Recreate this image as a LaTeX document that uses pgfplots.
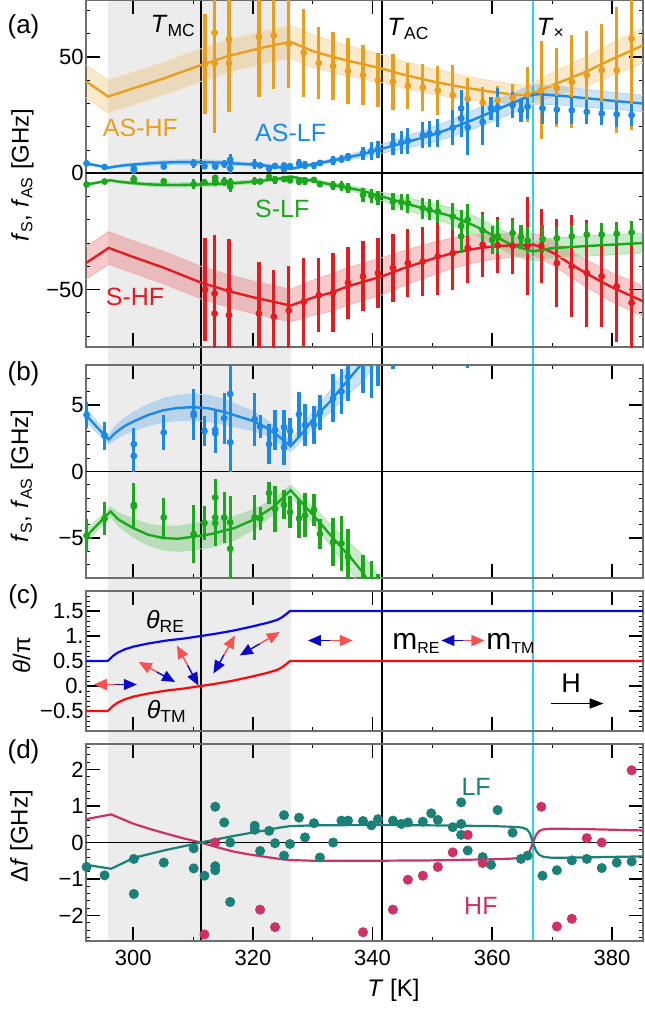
\documentclass[border=0pt]{standalone}
\usepackage{fontspec}
\setmainfont{Liberation Sans}
\usepackage{pgfplots}
\pgfplotsset{compat=1.18}
\usepackage{pgfplotstable}
\usetikzlibrary{backgrounds,arrows.meta}

\definecolor{cOr}{RGB}{232,158,30}
\definecolor{cBl}{RGB}{30,136,229}
\definecolor{cGr}{RGB}{28,168,28}
\definecolor{cRd}{RGB}{226,28,32}
\definecolor{cTe}{RGB}{26,128,120}
\definecolor{cMg}{RGB}{205,50,100}
\definecolor{cCy}{RGB}{40,215,225}
\definecolor{cSh}{RGB}{236,236,236}
\definecolor{cFr}{RGB}{110,110,110}
\definecolor{thB}{RGB}{10,10,240}
\definecolor{thR}{RGB}{250,10,10}
\definecolor{arR}{RGB}{250,80,80}
\definecolor{arB}{RGB}{10,10,200}

\newcommand{\fs}[1]{\fontsize{#1}{#1}\selectfont}

% model curves: T, centre, half width of band
\pgfplotstableread{
T c w
292.1 39.5 7
295.8 33 7
300 36.5 7
305 40.7 7
311.3 46.5 7
316 50.5 7
320 53 7
323 54.8 7
326.3 56.5 7
330 52.5 7
333 50.3 6.8
336 48.3 6.5
341.6 45 6
345 42.5 5.8
350 39.5 5.5
355 37 5
360 35 4.7
363 34 4.5
365.8 33.5 4.3
368.2 35.8 4.8
370.2 38 5.5
375.6 43.6 6.2
380 49 7
385.2 55 7.5
}\orline
\pgfplotstableread{
T c w
292.1 -38.6 7
295.9 -32.1 7
300 -36 7
305 -40.5 7
311.3 -47 7
316 -50.7 7
320 -53.3 7
323 -55 7
326.3 -56.9 7
330 -53.5 7.5
333 -51.4 8
336 -48.5 8
341.6 -44.3 8
345 -41 7.5
350 -36.8 7
353.4 -34.3 6.5
357 -32.5 6
360 -31.5 5.5
363 -31 5.2
366.8 -30.7 5
368 -31.6 5
370.2 -34.3 5.2
372.5 -38 5.5
375.6 -42.9 5.8
380 -49 6.2
385.2 -55 6.5
}\rdline
\pgfplotstableread{
T c w
292.1 4.25 0.5
294 3.3 0.4
295.9 2.4 0.35
297 2.9 0.5
298.5 3.4 0.6
300 3.75 0.7
302.5 4.25 0.8
305 4.6 0.9
307.5 4.78 0.95
310 4.83 1.0
312.5 4.75 1.0
315 4.5 0.95
317.5 4.15 0.85
320 3.8 0.75
322 3.35 0.6
324 2.75 0.5
326.3 1.9 0.4
328 2.75 0.5
330 3.9 0.6
331.3 4.5 0.7
333 5.3 0.8
335 6.4 1.0
338.4 8.2 1.4
341.6 10.6 1.9
345 12.9 2.5
350 16.5 3.2
353.4 19.6 3.6
357 23.2 4
360 26.5 4.2
363 29.8 4.3
365.6 32.6 4.3
366.8 33.8 4.3
368 34 4.2
372 33.2 4
376 32.2 3.8
380 31.2 3.6
385.2 30 3.5
}\blline
\pgfplotstableread{
T c w
292.1 -4.9 0.5
294 -4.0 0.4
296.2 -3.0 0.35
297.5 -3.6 0.5
300 -4.25 0.7
302.5 -4.75 0.8
305 -5.0 0.9
307.5 -5.05 0.95
310 -4.9 1.0
313 -4.7 1.0
316.9 -4.25 0.9
320.2 -3.6 0.75
323.6 -2.6 0.55
326.3 -1.4 0.4
328 -2.25 0.5
331.3 -3.9 0.7
333 -4.8 0.8
336.2 -6.4 1.0
338.4 -7.6 1.3
341.6 -10 1.8
345 -12.6 2.5
350 -16.2 3.2
353.4 -18.6 3.6
357 -22.5 4
360 -26.5 4.3
363.4 -31 4.3
365.9 -32.9 4.3
366.8 -33.6 4.3
370 -32.2 4.3
375 -31.4 4.3
380 -30.7 4.3
385.2 -30 4.3
}\grline

% measured frequencies: T, value, error
\pgfplotstableread{
T y e
312.0 47.1 21.5
313.6 47.4 30
313.6 60.4 30
316.0 47.4 21
316.0 57.6 31
321.0 58.6 26
323.5 59.3 23
326.0 55.7 19
328.5 51.8 19
331.0 47.4 15.5
333.4 46.1 14.6
335.9 44.0 14
338.4 42.2 13
340.9 40.0 11.5
343.4 39.3 12
345.9 37.6 10
348.4 36.9 10
350.9 35.7 10.5
353.4 33.6 13
355.9 31.9 9
358.4 30.3 7
360.9 31.5 6
363.4 32.5 6
365.9 33.9 12
368.2 35.7 21
370.8 36.7 17
373.3 39.3 20
375.8 42.2 19
378.3 44.3 20
380.8 44.3 27
383.3 57.8 39
}\orpts
\pgfplotstableread{
T y e
312.0 -50.0 22
313.6 -51.7 25
313.6 -60.3 25
316.0 -50.3 22
316.0 -61.0 22
321.0 -60.3 22
323.5 -61.7 20
326.0 -59.0 19
328.5 -55.3 19
331.0 -52.4 16
333.4 -51.4 17
335.9 -47.1 15.5
338.4 -44.3 15
340.9 -42.9 15
343.4 -40.7 14.5
345.9 -38.6 14.5
348.4 -37.9 15
350.9 -35.7 16.5
353.4 -34.3 16
355.9 -32.1 15
358.4 -30.7 14
360.9 -31.0 12
363.4 -31.2 12
365.9 -31.3 21
368.2 -31.3 16
370.8 -38.6 19
373.3 -40.0 22
375.8 -42.9 23
378.3 -44.3 22
380.8 -48.6 24
383.3 -55.7 25
}\rdpts
\pgfplotstableread{
T y e
292.2 4.25 1.0
295.2 2.7 1.05
300.1 2.05 1.2
300.1 1.17 1.2
305.1 2.93 1.3
310.1 4.38 1.8
310.1 4.2 1.8
311.9 3.05 1.15
313.7 3.13 1.5
313.7 2.88 1.5
315.2 4.0 1.9
316.2 5.83 2.6
316.2 2.2 2.2
320.3 3.93 2.0
321.2 3.38 0.9
322.7 2.05 1.5
323.7 3.13 1.5
325.2 3.33 1.3
325.2 1.8 1.3
326.2 3.05 1.0
327.7 4.3 1.7
328.7 3.5 1.6
330.2 3.5 1.45
331.2 4.43 1.3
333.4 5.5 1.8
334.8 6.0 1.7
335.9 7.1 1.8
338.4 8.7 2.8
339.8 9.5 4
340.9 10.2 3.8
343.4 12.5 4.8
344.8 13.2 5
345.9 14.0 5.5
348.4 16.4 5.5
349.5 17.0 5.5
350.9 17.4 6
353.4 19.6 7.5
354.8 27.9 8
354.8 23.6 8
355.9 19.8 12
358.4 22.1 10
359.8 27.9 5
360.9 28.3 8.5
363.4 29.3 5.7
364.8 27.1 5
365.9 28.6 5.4
368.4 27.9 6.8
370.8 27.4 6
373.3 27.1 5.7
375.8 26.4 5
378.3 25.7 5
380.8 25.4 5.7
383.3 25.0 4.6
}\blpts
\pgfplotstableread{
T y e
292.2 -4.82 1.25
295.2 -3.55 1.25
300.1 -2.5 1.6
300.1 -2.63 1.6
305.1 -3.45 1.45
310.1 -4.7 2.2
311.9 -3.87 1.25
313.7 -1.95 1.35
313.7 -3.45 2.15
313.7 -3.87 1.75
315.2 -3.45 1.9
316.2 -3.82 2.0
316.2 -5.8 2.3
320.3 -3.45 1.7
321.2 -3.53 0.9
322.7 -1.62 0.85
323.7 -2.82 1.75
325.2 -2.5 1.1
326.2 -3.05 1.2
327.7 -3.53 1.5
328.7 -3.3 1.65
330.2 -2.87 1.2
331.2 -4.7 1.15
333.4 -5.3 1.8
334.8 -5.4 2.05
335.9 -6.4 2.1
338.4 -9.3 3
339.8 -9.7 3
340.9 -10.7 3
343.4 -12.1 3.5
344.8 -12.4 3.5
345.9 -12.9 4
348.4 -15.0 4.5
349.5 -15.7 4.5
350.9 -16.4 5
353.4 -18.6 6
354.8 -22.6 7
354.8 -27.1 7
355.9 -20.0 7
358.4 -24.6 7
360.0 -28.6 6
360.9 -27.1 7
363.4 -25.7 6
364.8 -27.4 5
365.9 -28.9 6
368.4 -28.3 6
370.8 -27.9 5
373.3 -27.1 5
375.8 -26.4 5
378.3 -26.4 5
380.8 -26.0 5
383.3 -25.4 5
}\grpts

% magnetisation angles
\pgfplotstableread{
T re tm
292.1 0.5 -0.5
295.7 0.5 -0.5
296.1 0.54 -0.46
296.6 0.6 -0.4
297.3 0.66 -0.34
298.5 0.73 -0.27
300.1 0.79 -0.21
302.5 0.85 -0.15
305.6 0.91 -0.09
308.5 0.95 -0.05
311.3 1.0 0.0
314.0 1.05 0.05
316.8 1.11 0.11
319.5 1.18 0.18
322.3 1.26 0.26
324.0 1.32 0.32
324.8 1.37 0.37
325.6 1.44 0.44
326.2 1.5 0.5
385.2 1.5 0.5
}\thtab

% frequency differences
\pgfplotstableread{
T lf hf
292.1 -0.61 0.64
296.3 -0.72 0.77
300.1 -0.42 0.51
302.8 -0.31 0.37
305.6 -0.2 0.24
308.5 -0.1 0.11
311.3 0.0 0.0
314 0.09 -0.13
316.8 0.18 -0.25
319.5 0.26 -0.33
322.3 0.34 -0.40
324.5 0.41 -0.45
326.2 0.45 -0.48
330 0.47 -0.5
340 0.48 -0.5
350 0.47 -0.49
360 0.45 -0.46
363.4 0.43 -0.44
365 0.41 -0.41
365.8 0.36 -0.35
366.3 0.25 -0.22
366.8 0.0 0.0
367.3 -0.22 0.2
367.8 -0.33 0.31
368.5 -0.39 0.36
370 -0.42 0.38
375 -0.41 0.37
385.2 -0.38 0.33
}\dftab
\pgfplotstableread{
T y
292.2 -0.67
295.2 -0.9
300.1 -0.45
300.1 -1.41
305.1 -0.55
310.1 -0.16
310.1 -0.71
311.9 -0.91
313.7 0.98
313.7 -0.65
313.7 -0.76
315.2 0.55
316.2 0.0
316.2 -1.63
320.3 0.46
320.3 0.35
321.2 -0.23
322.7 0.32
323.7 -0.02
325.2 0.75
325.2 -0.36
326.2 -0.04
327.7 0.68
328.7 0.14
330.2 0.53
331.2 -0.41
333.4 0.0
334.8 0.60
335.9 0.6
338.4 0.59
339.8 0.47
340.9 0.64
343.4 0.6
344.8 0.51
345.9 0.55
348.4 0.57
349.8 0.8
350.9 0.62
353.4 0.42
354.8 1.1
354.8 0.51
354.8 0.21
355.9 -0.22
358.4 -0.40
359.8 -0.61
360.9 0.89
363.4 0.27
364.8 -0.45
365.9 -0.36
368.4 -0.91
370.8 -0.76
373.3 -0.49
375.8 -0.45
378.3 -0.7
380.8 -0.55
383.3 -0.52
}\lfpts
\pgfplotstableread{
T y
311.9 -2.52
313.7 0.0
321.2 -1.84
323.7 -2.32
338.4 -2.46
340.9 -2.78
343.4 -1.84
345.9 -1.02
348.4 -0.91
350.9 -0.67
353.4 -0.27
355.9 0.21
358.4 -0.56
365.8 2.72
368.2 0.98
370.8 -2.3
373.3 -2.09
375.8 0.12
378.3 0.0
383.3 1.98
}\hfpts

\pgfplotsset{
  geom/.style={scale only axis, width=278.5pt, anchor=north west,
    xmin=292.1, xmax=385.2},
  pa/.style={at={(43pt,0pt)}, height=173.5pt, ymin=-74.7, ymax=74.5},
  pb/.style={at={(43pt,-182.5pt)}, height=106.5pt, ymin=-8, ymax=8},
  panel/.style={geom,
    xtick={300,320,340,360,380}, minor xtick={310,330,350,370},
    xticklabels={},
    major tick length=7pt, minor tick length=2.2pt,
    tick style={black},
    major tick style={line width=0.9pt},
    minor tick style={line width=0.5pt},
    axis line style={cFr, line width=0.6pt},
    tick label style={font=\fs{11}},
    yticklabel style={inner sep=1pt},
  },
}

% shaded uncertainty band: an own hidden axis, lower edge stacked with the width
\newcommand{\bandfill}[3]{%
  \begin{axis}[geom, #3, hide axis, stack plots=y]
  \addplot[draw=none] table[x=T, y expr=\thisrow{c}-\thisrow{w}] {#1};
  \addplot[draw=none, fill=#2, fill opacity=0.23] table[x=T, y expr=2*\thisrow{w}] {#1} \closedcycle;
  \end{axis}}
% band edges + centre line
\newcommand{\band}[2]{%
  \addplot[draw=#2!35, line width=0.4pt] table[x=T, y expr=\thisrow{c}+\thisrow{w}] {#1};
  \addplot[draw=#2!35, line width=0.4pt] table[x=T, y expr=\thisrow{c}-\thisrow{w}] {#1};
  \addplot[#2, line width=1.2pt] table[x=T, y=c] {#1};
}
\newcommand{\pts}[2]{%
  \addplot[#2, only marks, mark=*, mark size=1.5pt,
    error bars/.cd, y dir=both, y explicit, error mark=none,
    error bar style={line width=1.6pt}] table[x=T, y=y, y error=e] {#1};
}

\begin{document}
\begin{tikzpicture}
\useasboundingbox (0pt,0pt) rectangle (322pt,-506.5pt);

% ---------------- (a)
\bandfill{\orline}{cOr}{pa}
\bandfill{\rdline}{cRd}{pa}
\bandfill{\blline}{cBl}{pa}
\bandfill{\grline}{cGr}{pa}
\begin{axis}[panel, pa,
  ytick={-50,0,50}, yticklabels={−50,0,50},
  minor ytick={-70,-60,-40,-30,-20,-10,10,20,30,40,60,70}]
\draw[black, line width=0.9pt] (axis cs:292.1,0) -- (axis cs:385.2,0);
\band{\orline}{cOr}
\band{\rdline}{cRd}
\band{\blline}{cBl}
\band{\grline}{cGr}
\pts{\orpts}{cOr}
\pts{\rdpts}{cRd}
\pts{\blpts}{cBl}
\pts{\grpts}{cGr}
\node[cOr, font=\fs{12.5}] at (axis cs:301.2,19.4) {AS-HF};
\node[cBl, font=\fs{12.5}] at (axis cs:326.3,17.3) {AS-LF};
\node[cGr, font=\fs{12.5}] at (axis cs:324.9,-15.3) {S-LF};
\node[cRd, font=\fs{12.5}] at (axis cs:300.3,-53) {S-HF};
\node[anchor=base, font=\fs{12.5}] at (axis cs:306.7,60.7) {\textit{T}\textsubscript{MC}};
\node[anchor=base, font=\fs{12.5}] at (axis cs:346,59.3) {\textit{T}\textsubscript{AC}};
\node[anchor=base, font=\fs{12.5}] at (axis cs:369.8,59.3) {\textit{T}\textsubscript{×}};
\coordinate (aG1) at (axis cs:295.8,74.5);
\coordinate (aMC) at (axis cs:311.3,74.5);
\coordinate (aAC) at (axis cs:341.6,74.5);
\coordinate (aX) at (axis cs:366.8,74.5);
\end{axis}

% ---------------- (b)
\bandfill{\blline}{cBl}{pb}
\bandfill{\grline}{cGr}{pb}
\begin{axis}[panel, pb,
  ytick={-5,0,5}, yticklabels={−5,0,5},
  minor ytick={-7,-6,-4,-3,-2,-1,1,2,3,4,6,7}]
\draw[black, line width=0.9pt] (axis cs:292.1,0) -- (axis cs:385.2,0);
\band{\blline}{cBl}
\band{\grline}{cGr}
\pts{\blpts}{cBl}
\pts{\grpts}{cGr}
\end{axis}

% ---------------- (c)
\begin{axis}[panel, at={(43pt,-295.5pt)}, height=70pt,
  ymin=-0.9, ymax=1.9,
  ytick={-0.5,0,0.5,1,1.5}, yticklabels={−0.5,0.,0.5,1.,1.5},
  minor ytick={-0.8,-0.7,-0.6,-0.4,-0.3,-0.2,-0.1,0.1,0.2,0.3,0.4,0.6,0.7,0.8,0.9,1.1,1.2,1.3,1.4,1.6,1.7,1.8}]
\addplot[thB, line width=1.1pt] table[x=T, y=re] {\thtab};
\addplot[thR, line width=1.1pt] table[x=T, y=tm] {\thtab};
\draw[arR, line width=0.7pt, -{Triangle[length=6.5pt,width=5.5pt]}] (axis cs:297,0.03) -- (axis cs:293.4,0.03);
\draw[arB, line width=0.7pt, -{Triangle[length=6.5pt,width=5.5pt]}] (axis cs:297,0.03) -- (axis cs:300.6,0.03);
\draw[arR, line width=0.7pt, -{Triangle[length=6.5pt,width=5.5pt]}] (axis cs:303.95,0.28) -- (axis cs:300.9,0.48);
\draw[arB, line width=0.7pt, -{Triangle[length=6.5pt,width=5.5pt]}] (axis cs:303.95,0.28) -- (axis cs:307,0.08);
\draw[arR, line width=0.7pt, -{Triangle[length=6.5pt,width=5.5pt]}] (axis cs:309.1,0.41) -- (axis cs:307.3,0.81);
\draw[arB, line width=0.7pt, -{Triangle[length=6.5pt,width=5.5pt]}] (axis cs:309.1,0.41) -- (axis cs:310.9,0.01);
\draw[arB, line width=0.7pt, -{Triangle[length=6.5pt,width=5.5pt]}] (axis cs:315.2,0.63) -- (axis cs:313.4,0.25);
\draw[arR, line width=0.7pt, -{Triangle[length=6.5pt,width=5.5pt]}] (axis cs:315.2,0.63) -- (axis cs:317,1.01);
\draw[arB, line width=0.7pt, -{Triangle[length=6.5pt,width=5.5pt]}] (axis cs:321.15,0.845) -- (axis cs:317.8,0.61);
\draw[arR, line width=0.7pt, -{Triangle[length=6.5pt,width=5.5pt]}] (axis cs:321.15,0.845) -- (axis cs:324.5,1.08);
\draw[arB, line width=0.7pt, -{Triangle[length=6.5pt,width=5.5pt]}] (axis cs:332.95,0.91) -- (axis cs:329.2,0.91);
\draw[arR, line width=0.7pt, -{Triangle[length=6.5pt,width=5.5pt]}] (axis cs:332.95,0.91) -- (axis cs:336.7,0.91);
\draw[arB, line width=0.7pt, -{Triangle[length=6.5pt,width=5.5pt]}] (axis cs:355.1,0.91) -- (axis cs:351.5,0.91);
\draw[arR, line width=0.7pt, -{Triangle[length=6.5pt,width=5.5pt]}] (axis cs:355.1,0.91) -- (axis cs:358.7,0.91);
\draw[line width=0.9pt, -{Triangle[length=7pt,width=5pt]}] (axis cs:369.9,-0.35) -- (axis cs:378.6,-0.35);
\node[anchor=base east, font=\fs{15}, inner sep=0.5pt] at (axis cs:351.6,0.73) {m\textsubscript{\fs{8}RE}};
\node[anchor=base west, font=\fs{15}, inner sep=0.5pt] at (axis cs:358.8,0.73) {m\textsubscript{\fs{8}TM}};
\node[anchor=base, font=\fs{13.5}] at (axis cs:373.2,-0.12) {H};
\node[anchor=base, font=\fs{12.5}] at (axis cs:305.4,1.15) {\textit{θ}\textsubscript{RE}};
\node[anchor=base, font=\fs{12.5}] at (axis cs:305.6,-0.65) {\textit{θ}\textsubscript{TM}};
\end{axis}

% ---------------- (d)
\begin{axis}[panel, at={(43pt,-372pt)}, height=98.5pt,
  ymin=-2.7, ymax=2.7,
  ytick={-2,-1,0,1,2}, yticklabels={−2,−1,0,1,2},
  minor ytick={-2.6,-2.4,-2.2,-1.8,-1.6,-1.4,-1.2,-0.8,-0.6,-0.4,-0.2,0.2,0.4,0.6,0.8,1.2,1.4,1.6,1.8,2.2,2.4,2.6},
  xticklabels={300,320,340,360,380},
  xticklabel style={yshift=-1pt}]
\draw[black, line width=0.9pt] (axis cs:292.1,0) -- (axis cs:385.2,0);
\addplot[cMg, line width=1.1pt] table[x=T, y=hf] {\dftab};
\addplot[cTe, line width=1.1pt] table[x=T, y=lf] {\dftab};
\addplot[cTe, only marks, mark=*, mark size=2.3pt] table[x=T, y=y] {\lfpts};
\addplot[cMg, only marks, mark=*, mark size=2.3pt] table[x=T, y=y] {\hfpts};
\node[cTe, font=\fs{12.5}] at (axis cs:357.3,1.53) {LF};
\node[cMg, font=\fs{12.5}] at (axis cs:358.1,-1.75) {HF};
\coordinate (dG2) at (axis cs:326.3,-2.7);
\coordinate (dMC) at (axis cs:311.3,-2.7);
\coordinate (dAC) at (axis cs:341.6,-2.7);
\coordinate (dX) at (axis cs:366.8,-2.7);
\end{axis}

\begin{scope}[on background layer]
\fill[cSh] (aG1) rectangle (dG2);
\draw[black, line width=1pt] (aMC) -- (dMC);
\draw[black, line width=1pt] (aAC) -- (dAC);
\draw[cCy, line width=0.9pt] (aX) -- (dX);
\end{scope}

% panel letters and axis titles
\node[font=\fs{13}] at (11.75pt,-13.25pt) {(a)};
\node[font=\fs{13}] at (11.75pt,-186.75pt) {(b)};
\node[font=\fs{13}] at (11.75pt,-298.5pt) {(c)};
\node[font=\fs{13}] at (11.75pt,-376pt) {(d)};
\node[rotate=90, font=\fs{12}] at (11.25pt,-87.5pt) {\textit{f}\textsubscript{S}, \textit{f}\textsubscript{AS} [GHz]};
\node[rotate=90, font=\fs{12}] at (11pt,-238pt) {\textit{f}\textsubscript{S}, \textit{f}\textsubscript{AS} [GHz]};
\node[rotate=90, font=\fs{12}] at (10.75pt,-327.5pt) {\textit{θ}/π};
\node[rotate=90, font=\fs{12}] at (10.75pt,-418.25pt) {Δ\textit{f} [GHz]};
\node[font=\fs{12}] at (196.75pt,-495pt) {\textit{T} [K]};
\end{tikzpicture}
\end{document}
